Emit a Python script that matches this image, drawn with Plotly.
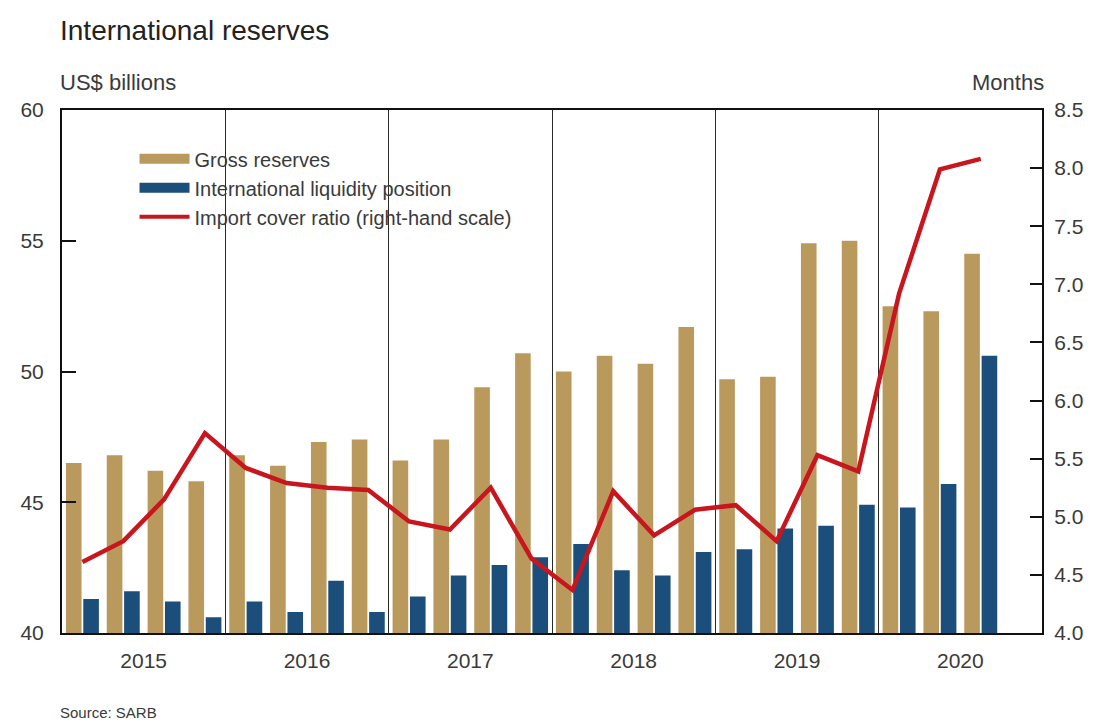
import plotly.graph_objects as go

# ---- data (quarterly, 2015Q1 .. 2020Q3) ----
years = ["2015", "2016", "2017", "2018", "2019", "2020"]
quarters_per_year = 4
gross_reserves = [46.5, 46.8, 46.2, 45.8,
                  46.8, 46.4, 47.3, 47.4,
                  46.6, 47.4, 49.4, 50.7,
                  50.0, 50.6, 50.3, 51.7,
                  49.7, 49.8, 54.9, 55.0,
                  52.5, 52.3, 54.5]
liquidity_position = [41.3, 41.6, 41.2, 40.6,
                      41.2, 40.8, 42.0, 40.8,
                      41.4, 42.2, 42.6, 42.9,
                      43.4, 42.4, 42.2, 43.1,
                      43.2, 44.0, 44.1, 44.9,
                      44.8, 45.7, 50.6]
import_cover = [4.61, 4.79, 5.15, 5.72,
                5.42, 5.29, 5.25, 5.23,
                4.96, 4.89, 5.25, 4.64,
                4.37, 5.22, 4.84, 5.06,
                5.10, 4.79, 5.53, 5.39,
                6.92, 7.99, 8.08]

GOLD = "#BA9A5C"
BLUE = "#1C4E7B"
RED = "#C8161F"
FONT = "Liberation Sans, Arial, sans-serif"
TXT = "#3a3a3a"

xq = list(range(len(gross_reserves)))
n_slots = len(years) * quarters_per_year
year_centers = [i * quarters_per_year + (quarters_per_year - 1) / 2 for i in range(len(years))]
year_bounds = [i * quarters_per_year - 0.5 for i in range(1, len(years))]

fig = go.Figure()
fig.add_trace(go.Bar(x=xq, y=gross_reserves, marker=dict(color=GOLD, line=dict(width=0)),
                     name="Gross reserves", showlegend=False, yaxis="y"))
fig.add_trace(go.Bar(x=xq, y=liquidity_position, marker=dict(color=BLUE, line=dict(width=0)),
                     name="International liquidity position", showlegend=False, yaxis="y"))
fig.add_trace(go.Scatter(x=xq, y=import_cover, mode="lines", line=dict(color=RED, width=4.5),
                         name="Import cover ratio (right-hand scale)", showlegend=False, yaxis="y2"))

# legend entries (wide swatches)
fig.add_trace(go.Scatter(x=[None], y=[None], mode="lines", line=dict(color=GOLD, width=10),
                         name="Gross reserves"))
fig.add_trace(go.Scatter(x=[None], y=[None], mode="lines", line=dict(color=BLUE, width=10),
                         name="International liquidity position"))
fig.add_trace(go.Scatter(x=[None], y=[None], mode="lines", line=dict(color=RED, width=4),
                         name="Import cover ratio (right-hand scale)"))

W, H = 1087, 712  # page body adds an 8px offset
fig.update_layout(
    width=W, height=H,
    margin=dict(l=52, r=53, t=102, b=87),
    paper_bgcolor="white", plot_bgcolor="white",
    font=dict(family=FONT, color=TXT, size=20),
    barmode="group", bargap=0.15, bargroupgap=0.1,
    title=dict(text="International reserves", x=52 / W, xanchor="left",
               xref="container", y=1 - 22 / H, yref="container", yanchor="middle",
               font=dict(size=28, color="#222222", family=FONT)),
    legend=dict(x=0.074, y=0.944, xanchor="left", yanchor="top", bgcolor="rgba(0,0,0,0)",
                font=dict(size=20, color=TXT), itemwidth=50, tracegroupgap=0),
    xaxis=dict(range=[-0.5, n_slots - 0.5], tickmode="array", tickvals=year_centers,
               ticktext=years, ticks="", showgrid=False, zeroline=False,
               showline=True, linecolor="#111111", linewidth=2, mirror=True,
               tickfont=dict(size=21, color=TXT), ticklabelstandoff=8,
               minor=dict(tickmode="array", tickvals=year_bounds, showgrid=True,
                          gridcolor="#2a2a2a", gridwidth=1.3, ticks="")),
    yaxis=dict(range=[40, 60], tickmode="linear", tick0=40, dtick=5, ticks="inside",
               ticklen=14, tickwidth=2, tickcolor="#111111", showgrid=False, zeroline=False,
               showline=True, linecolor="#111111", linewidth=2,
               tickfont=dict(size=21, color=TXT), ticklabelstandoff=12),
    yaxis2=dict(range=[4, 8.5], tickmode="linear", tick0=4, dtick=0.5, tickformat=".1f",
                overlaying="y", side="right", ticks="inside", ticklen=12, tickwidth=2,
                tickcolor="#111111", showgrid=False, zeroline=False,
                showline=True, linecolor="#111111", linewidth=2,
                tickfont=dict(size=21, color=TXT), ticklabelstandoff=6),
    annotations=[
        dict(text="US$ billions", xref="paper", yref="paper", x=0, y=1, xanchor="left",
             yanchor="middle", yshift=28, xshift=-4, showarrow=False,
             font=dict(size=22, color=TXT)),
        dict(text="Months", xref="paper", yref="paper", x=1, y=1, xanchor="right",
             yanchor="middle", yshift=28, xshift=4, showarrow=False,
             font=dict(size=22, color=TXT)),
        dict(text="Source: SARB", xref="paper", yref="paper", x=0, y=0, xanchor="left",
             yanchor="middle", yshift=-79, xshift=-4, showarrow=False,
             font=dict(size=15, color=TXT)),
    ],
)

fig.write_html("out.html")
